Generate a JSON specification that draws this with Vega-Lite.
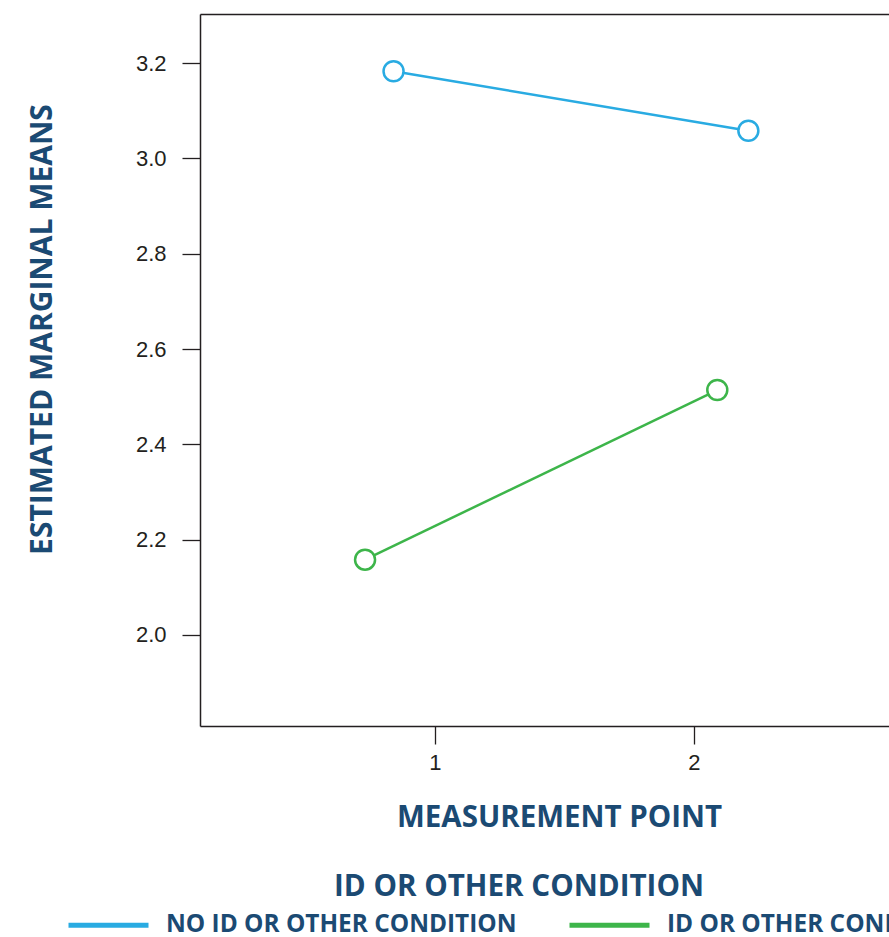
{
  "$schema": "https://vega.github.io/schema/vega-lite/v6.json",
  "autosize": {"type": "none"},
  "padding": {"left": 200, "top": 14, "right": 0, "bottom": 211},
  "width": 689,
  "height": 712,
  "background": "white",
  "config": {
    "view": {"stroke": null},
    "axis": {"grid": false}
  },
  "data": {
    "values": [
      {"point": 0.84, "mean": 3.183, "group": "NO ID OR OTHER CONDITION"},
      {"point": 2.21, "mean": 3.058, "group": "NO ID OR OTHER CONDITION"},
      {"point": 0.73, "mean": 2.158, "group": "ID OR OTHER CONDITION"},
      {"point": 2.09, "mean": 2.514, "group": "ID OR OTHER CONDITION"}
    ]
  },
  "encoding": {
    "y": {
      "field": "mean", "type": "quantitative",
      "scale": {"domain": [1.809, 3.303], "nice": false, "zero": false},
      "axis": {
        "values": [2.0, 2.2, 2.4, 2.6, 2.8, 3.0, 3.2],
        "format": ".1f",
        "title": "ESTIMATED MARGINAL MEANS",
        "titleFont": "Open Sans", "titleFontWeight": "bold", "titleFontSize": 30,
        "titleColor": "#1b4a73",
        "titleAngle": -90, "titleBaseline": "middle", "titleAlign": "center",
        "titleX": -158, "titleY": 315,
        "labelFont": "Liberation Sans", "labelFontSize": 22, "labelColor": "#231f20",
        "labelPadding": 16,
        "tickSize": 18, "tickColor": "#231f20", "tickWidth": 1.3,
        "domainColor": "#231f20", "domainWidth": 1.5
      }
    },
    "color": {
      "field": "group", "type": "nominal",
      "scale": {
        "domain": ["NO ID OR OTHER CONDITION", "ID OR OTHER CONDITION"],
        "range": ["#29abe2", "#3db54a"]
      },
      "legend": {
        "orient": "none", "legendX": -134, "legendY": 859,
        "direction": "horizontal",
        "title": "ID OR OTHER CONDITION",
        "titleFont": "Open Sans", "titleFontWeight": "bold", "titleFontSize": 29.6,
        "titleColor": "#1b4a73", "titleAnchor": "middle", "titlePadding": -20,
        "titleLimit": 1000,
        "labelFont": "Open Sans", "labelFontWeight": "bold", "labelFontSize": 24.4,
        "labelColor": "#1b4a73", "labelLimit": 600, "labelOffset": 15,
        "symbolType": "stroke", "symbolSize": 6400, "symbolStrokeWidth": 5,
        "columnPadding": 42
      }
    }
  },
  "layer": [
    {
      "mark": {"type": "line", "strokeWidth": 2.5},
      "encoding": {
        "x": {
          "field": "point", "type": "quantitative",
          "scale": {"domain": [0.0927, 2.753], "nice": false, "zero": false},
          "axis": {
            "orient": "top", "labels": false, "ticks": false, "title": null,
            "domainColor": "#231f20", "domainWidth": 1.5
          }
        }
      }
    },
    {
      "mark": {"type": "point", "shape": "circle", "size": 400, "strokeWidth": 2.5, "fill": "white", "filled": false, "opacity": 1},
      "encoding": {
        "x": {
          "field": "point", "type": "quantitative",
          "scale": {"domain": [0.0927, 2.753], "nice": false, "zero": false},
          "axis": {
            "orient": "bottom",
            "values": [1, 2], "format": "d",
            "title": "MEASUREMENT POINT",
            "titleFont": "Open Sans", "titleFontWeight": "bold", "titleFontSize": 29.5,
            "titleColor": "#1b4a73", "titleX": 359, "titlePadding": 30,
            "labelFont": "Liberation Sans", "labelFontSize": 22, "labelColor": "#231f20",
            "labelPadding": 8,
            "tickSize": 18, "tickColor": "#231f20", "tickWidth": 1.3,
            "domainColor": "#231f20", "domainWidth": 1.5
          }
        }
      }
    }
  ],
  "resolve": {"axis": {"x": "independent"}}
}
